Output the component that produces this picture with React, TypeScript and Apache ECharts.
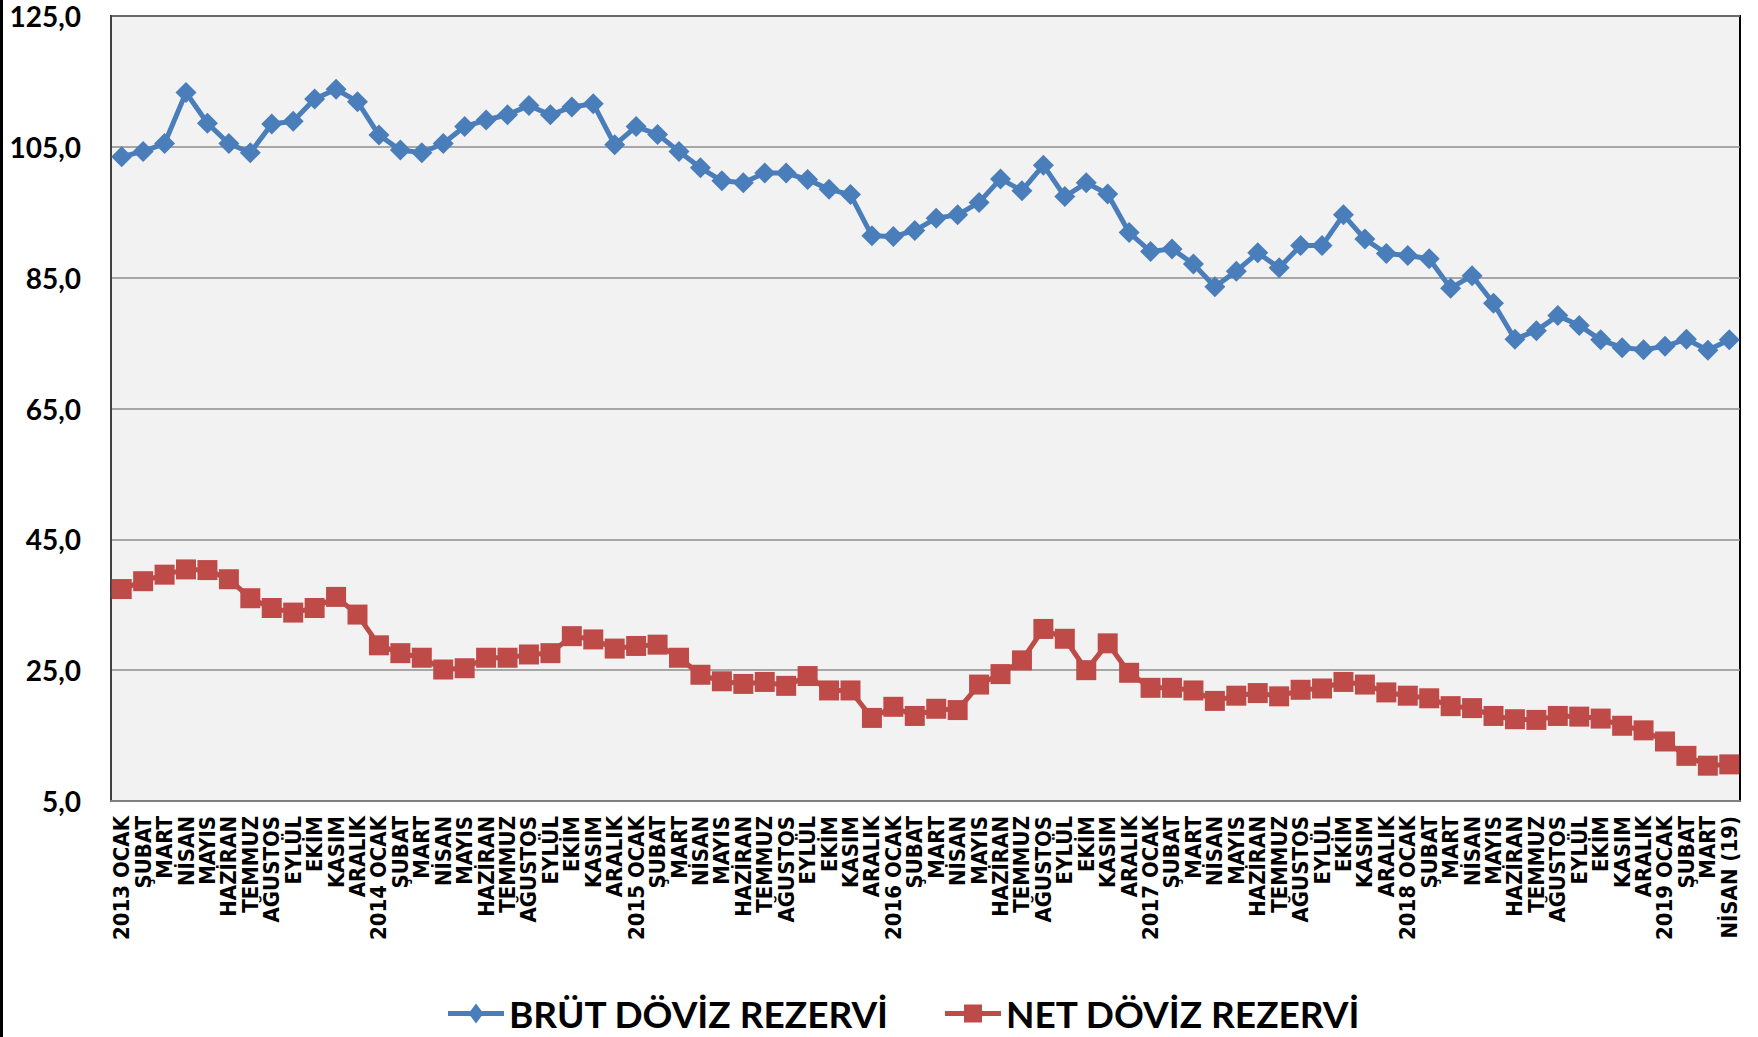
import React, { useEffect, useRef } from "react";
import * as echarts from "echarts";

const categories = [
  "2013 OCAK", "ŞUBAT", "MART", "NİSAN", "MAYIS", "HAZİRAN", "TEMMUZ", "AĞUSTOS", "EYLÜL", "EKİM", "KASIM", "ARALIK",
  "2014 OCAK", "ŞUBAT", "MART", "NİSAN", "MAYIS", "HAZİRAN", "TEMMUZ", "AĞUSTOS", "EYLÜL", "EKİM", "KASIM", "ARALIK",
  "2015 OCAK", "ŞUBAT", "MART", "NİSAN", "MAYIS", "HAZİRAN", "TEMMUZ", "AĞUSTOS", "EYLÜL", "EKİM", "KASIM", "ARALIK",
  "2016 OCAK", "ŞUBAT", "MART", "NİSAN", "MAYIS", "HAZİRAN", "TEMMUZ", "AĞUSTOS", "EYLÜL", "EKİM", "KASIM", "ARALIK",
  "2017 OCAK", "ŞUBAT", "MART", "NİSAN", "MAYIS", "HAZİRAN", "TEMMUZ", "AĞUSTOS", "EYLÜL", "EKİM", "KASIM", "ARALIK",
  "2018 OCAK", "ŞUBAT", "MART", "NİSAN", "MAYIS", "HAZİRAN", "TEMMUZ", "AĞUSTOS", "EYLÜL", "EKİM", "KASIM", "ARALIK",
  "2019 OCAK", "ŞUBAT", "MART", "NİSAN (19)",
];

const brutValues = [
  103.5, 104.3, 105.5, 113.3, 108.6, 105.5, 104.1, 108.5, 108.9, 112.3, 113.8, 111.9,
  106.8, 104.5, 104.1, 105.5, 108.1, 109.1, 109.9, 111.3, 109.9, 111.1, 111.6, 105.3,
  108.1, 106.9, 104.3, 101.8, 99.8, 99.5, 101.0, 101.0, 100.0, 98.5, 97.7, 91.4,
  91.3, 92.2, 94.1, 94.6, 96.5, 100.1, 98.3, 102.2, 97.4, 99.5, 97.8, 91.9,
  89.0, 89.4, 87.1, 83.6, 86.0, 88.8, 86.5, 89.9, 89.9, 94.6, 90.9, 88.7,
  88.4, 87.9, 83.4, 85.3, 81.1, 75.6, 76.9, 79.2, 77.7, 75.5, 74.3, 74.0,
  74.5, 75.6, 73.9, 75.5,
];

const netValues = [
  37.4, 38.6, 39.6, 40.4, 40.3, 38.9, 36.0, 34.5, 33.8, 34.5, 36.2, 33.5,
  28.8, 27.6, 26.9, 25.1, 25.3, 26.9, 26.9, 27.4, 27.6, 30.2, 29.7, 28.3,
  28.7, 28.9, 26.9, 24.3, 23.3, 22.9, 23.2, 22.6, 24.1, 21.9, 21.9, 17.7,
  19.4, 18.0, 19.1, 18.9, 22.8, 24.4, 26.5, 31.3, 29.8, 25.0, 29.1, 24.6,
  22.3, 22.3, 21.9, 20.3, 21.1, 21.5, 21.0, 22.0, 22.2, 23.2, 22.8, 21.6,
  21.1, 20.7, 19.5, 19.2, 18.0, 17.5, 17.4, 18.0, 17.9, 17.6, 16.5, 15.8,
  14.1, 11.9, 10.4, 10.6,
];

const yTicks = [5, 25, 45, 65, 85, 105, 125];
const seriesNames = ["BRÜT DÖVİZ REZERVİ", "NET DÖVİZ REZERVİ"];

const blue = "#4A7EBB";
const red = "#BE4B48";

const diamondLegendIcon =
  "path://M0,7.5 L22.4,7.5 L28,0 L33.6,7.5 L56,7.5 L56,12.5 L33.6,12.5 L28,20 L22.4,12.5 L0,12.5 Z";
const squareLegendIcon =
  "path://M0,7.5 L19,7.5 L19,1 L37,1 L37,7.5 L56,7.5 L56,12.5 L37,12.5 L37,19 L19,19 L19,12.5 L0,12.5 Z";

export default function App() {
  const ref = useRef<HTMLDivElement>(null);

  useEffect(() => {
    const chart = echarts.init(ref.current!, null, { renderer: "svg" });
    const legendText = {
      fontFamily: "Lato, 'Liberation Sans Narrow', sans-serif",
      fontWeight: "bold",
      fontSize: 37,
      color: "#000",
    };
    const legendCommon = {
      top: 995,
      padding: 0,
      itemWidth: 56,
      itemHeight: 20,
      textStyle: legendText,
    };
    chart.setOption({
      animation: false,
      backgroundColor: "#fff",
      grid: {
        left: 111,
        right: 18,
        top: 16,
        bottom: 236,
        show: true,
        backgroundColor: "#F2F2F2",
        borderColor: "#000",
        borderWidth: 2,
        containLabel: false,
      },
      legend: [
        {
          ...legendCommon,
          data: [{ name: seriesNames[0], icon: diamondLegendIcon, itemStyle: { color: blue } }],
          left: 448,
        },
        {
          ...legendCommon,
          data: [{ name: seriesNames[1], icon: squareLegendIcon, itemStyle: { color: red } }],
          left: 945,
        },
      ],
      xAxis: {
        type: "category",
        data: categories,
        boundaryGap: true,
        axisTick: { show: false },
        axisLine: { show: true, lineStyle: { color: "#808080", width: 2 } },
        axisLabel: {
          interval: 0,
          rotate: 90,
          margin: 15,
          fontFamily: "'DejaVu Sans Condensed', 'DejaVu Sans', sans-serif",
          fontWeight: "bold",
          fontSize: 22,
          color: "#000",
        },
        splitLine: { show: false },
      },
      yAxis: {
        type: "value",
        min: 5,
        max: 125,
        axisLine: { show: true, lineStyle: { color: "#404040", width: 2 } },
        axisTick: { show: false, customValues: yTicks },
        axisLabel: {
          customValues: yTicks,
          margin: 30,
          formatter: (v: number) => v.toFixed(1).replace(".", ","),
          fontFamily: "Lato, 'Liberation Sans Narrow', sans-serif",
          fontWeight: "bold",
          fontSize: 28,
          color: "#000",
        },
        splitLine: { show: true, lineStyle: { color: "#8C8C8C", width: 1.5 } },
      },
      series: [
        {
          name: seriesNames[0],
          type: "line",
          data: brutValues,
          symbol: "diamond",
          symbolSize: 21,
          lineStyle: { color: blue, width: 5 },
          itemStyle: { color: blue },
          z: 3,
        },
        {
          name: seriesNames[1],
          type: "line",
          data: netValues,
          symbol: "rect",
          symbolSize: 20,
          lineStyle: { color: red, width: 5 },
          itemStyle: { color: red },
          z: 3,
        },
      ],
      graphic: [
        {
          type: "rect",
          left: 0,
          top: 0,
          shape: { width: 3, height: 1037 },
          style: { fill: "#000" },
        },
      ],
    });
    return () => chart.dispose();
  }, []);

  return (
    <div
      ref={ref}
      style={{ position: "fixed", left: 0, top: 0, width: 1758, height: 1037, background: "#fff" }}
    />
  );
}
